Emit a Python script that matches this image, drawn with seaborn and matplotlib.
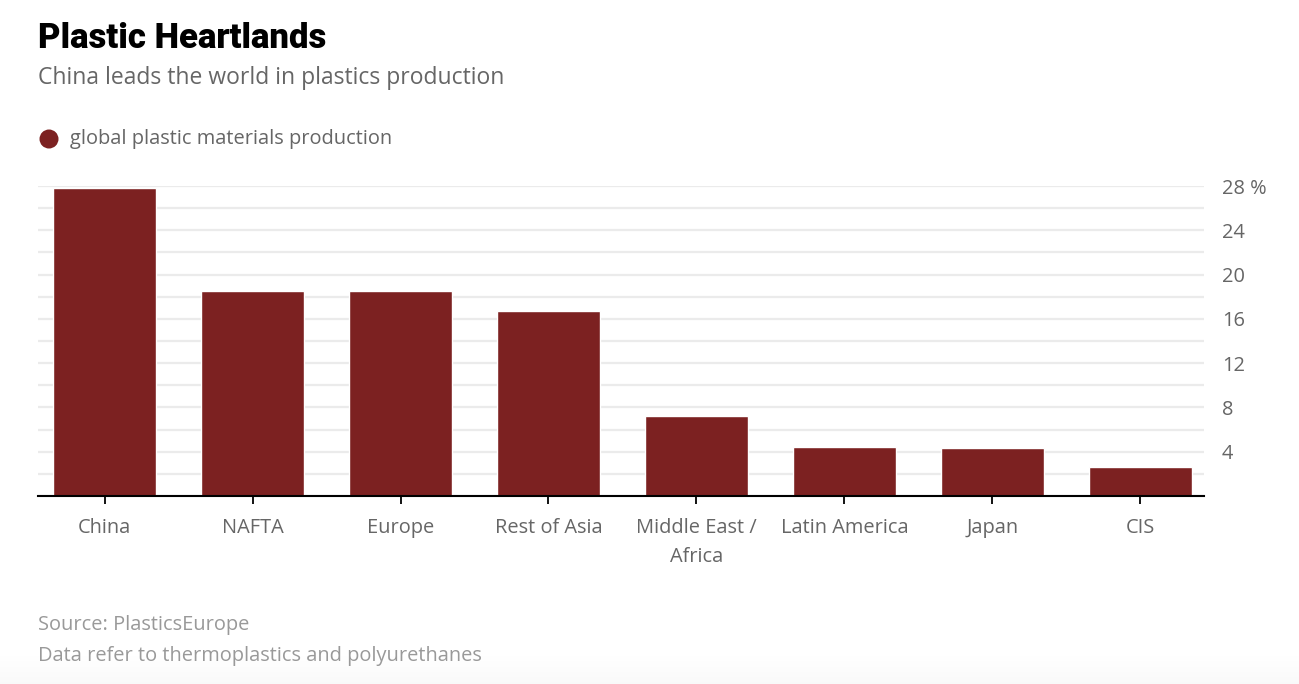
import matplotlib
matplotlib.use("Agg")
import matplotlib.pyplot as plt
import seaborn as sns
import pandas as pd
import numpy as np
from matplotlib.ticker import MultipleLocator, FuncFormatter
from matplotlib.patches import Ellipse

regions = ["China", "NAFTA", "Europe", "Rest of Asia", "Middle East /\nAfrica",
           "Latin America", "Japan", "CIS"]
shares = [27.8, 18.5, 18.5, 16.7, 7.2, 4.4, 4.3, 2.6]
y_ticks = [4, 8, 12, 16, 20, 24, 28]

BAR = "#7c2121"
GRAY = "#666666"
LIGHT = "#999999"

sns.set_theme(style="white")
plt.rcParams['font.family'] = ['Open Sans', 'DejaVu Sans']

df = pd.DataFrame({"region": regions, "share": shares})

fig = plt.figure(figsize=(12.99, 6.84), dpi=100)

# faint shade at the very bottom
bg = fig.add_axes([0, 0, 1, 30/684], zorder=-10)
grad = np.linspace(1, 0, 50).reshape(-1, 1)
bg.imshow(grad, aspect="auto", cmap="Greys", vmin=0, vmax=22, extent=[0, 1, 0, 1], origin="lower")
bg.axis("off")

ax = fig.add_axes([38/1299, 1-496/684, (1204-38)/1299, (496-186)/684])

sns.barplot(data=df, x="region", y="share", color=BAR, width=0.7,
            saturation=1, ax=ax, zorder=3)

ax.set_xlim(-0.45, 7.43)
ax.set_ylim(0, 28)
ax.set_xlabel("")
ax.set_ylabel("")

ax.yaxis.set_minor_locator(MultipleLocator(2))
ax.set_yticks(y_ticks)
ax.yaxis.set_major_formatter(FuncFormatter(lambda v, p: "28 %" if v == 28 else f"{int(v)}"))
ax.yaxis.tick_right()
ax.tick_params(axis="y", which="both", length=0, pad=13, labelsize=14.4, labelcolor=GRAY)
ax.grid(axis="y", which="both", color="#ebebeb", linewidth=1.6, zorder=0)
ax.grid(axis="x", visible=False)
ax.set_axisbelow(True)

for s in ["top", "left", "right"]:
    ax.spines[s].set_visible(False)
ax.spines["bottom"].set_color("black")
ax.spines["bottom"].set_linewidth(1.5)
ax.spines["bottom"].set_zorder(5)

ax.tick_params(axis="x", bottom=True, length=6, width=1.3, color="black",
               labelsize=14.4, labelcolor=GRAY, pad=10)
for lbl in ax.get_xticklabels():
    lbl.set_linespacing(1.6)

fig.text(38/1299, 1-39/684, "Plastic Heartlands", fontsize=25, fontweight="heavy",
         family=["Roboto", "DejaVu Sans"], color="black", va="center", ha="left")
fig.text(38/1299, 1-78/684, "China leads the world in plastics production", fontsize=16.5,
         color=GRAY, va="center", ha="left")

fig.patches.append(Ellipse((49/1299, 1-139/684), 19/1299, 19/684, transform=fig.transFigure,
                           facecolor=BAR, edgecolor="none", figure=fig))
fig.text(70/1299, 1-139/684, "global plastic materials production", fontsize=14.4,
         color=GRAY, va="center", ha="left")

fig.text(38/1299, 1-625/684, "Source: PlasticsEurope", fontsize=14.4, color=LIGHT,
         va="center", ha="left")
fig.text(38/1299, 1-656/684, "Data refer to thermoplastics and polyurethanes", fontsize=14.4,
         color=LIGHT, va="center", ha="left")

fig.savefig("out.png", dpi=100, facecolor="white")
